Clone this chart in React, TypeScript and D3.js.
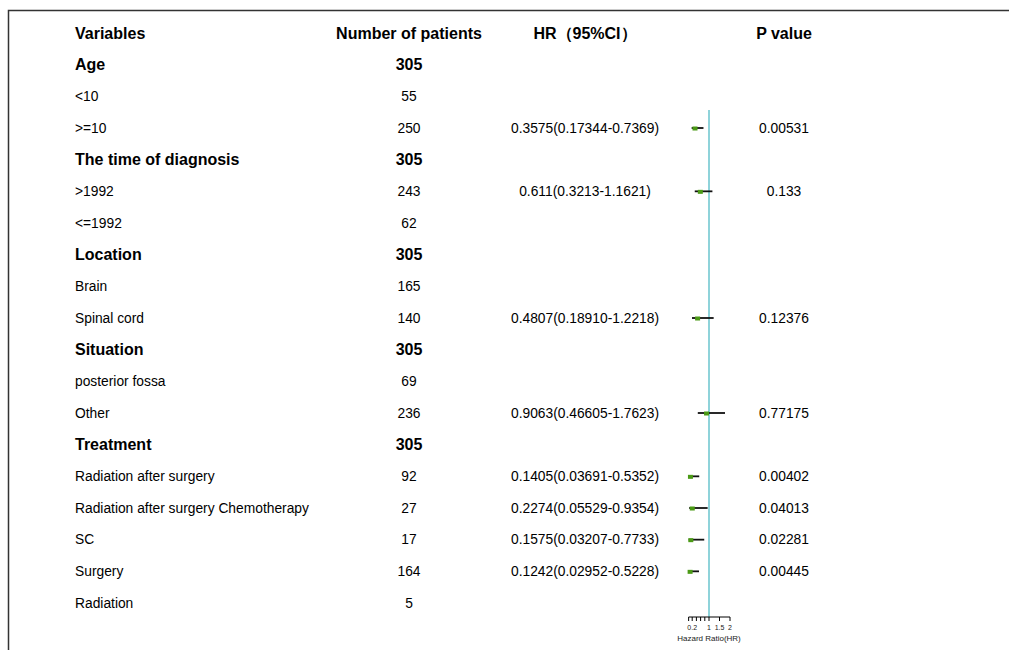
import { useEffect, useRef } from 'react';
import * as d3 from 'd3';

const variables = [
  'Age', '<10', '>=10',
  'The time of diagnosis', '>1992', '<=1992',
  'Location', 'Brain', 'Spinal cord',
  'Situation', 'posterior fossa', 'Other',
  'Treatment', 'Radiation after surgery', 'Radiation after surgery Chemotherapy', 'SC', 'Surgery', 'Radiation',
];
const isGroup = [
  true, false, false,
  true, false, false,
  true, false, false,
  true, false, false,
  true, false, false, false, false, false,
];
const patients = [305, 55, 250, 305, 243, 62, 305, 165, 140, 305, 69, 236, 305, 92, 27, 17, 164, 5];
const hrText = [
  '', '', '0.3575(0.17344-0.7369)',
  '', '0.611(0.3213-1.1621)', '',
  '', '', '0.4807(0.18910-1.2218)',
  '', '', '0.9063(0.46605-1.7623)',
  '', '0.1405(0.03691-0.5352)', '0.2274(0.05529-0.9354)', '0.1575(0.03207-0.7733)', '0.1242(0.02952-0.5228)', '',
];
const hr = [null, null, 0.3575, null, 0.611, null, null, null, 0.4807, null, null, 0.9063, null, 0.1405, 0.2274, 0.1575, 0.1242, null];
const lower = [null, null, 0.17344, null, 0.3213, null, null, null, 0.1891, null, null, 0.46605, null, 0.03691, 0.05529, 0.03207, 0.02952, null];
const upper = [null, null, 0.7369, null, 1.1621, null, null, null, 1.2218, null, null, 1.7623, null, 0.5352, 0.9354, 0.7733, 0.5228, null];
const pValues = ['', '', '0.00531', '', '0.133', '', '', '', '0.12376', '', '', '0.77175', '', '0.00402', '0.04013', '0.02281', '0.00445', ''];
const headers = ['Variables', 'Number of patients', 'HR\uFF0895%CI\uFF09', 'P value'];
const axisTicks = [0.2, 0.4, 0.6, 0.8, 1, 1.5, 2];
const axisLabels = [0.2, 1, 1.5, 2];

export default function App() {
  const svgRef = useRef<SVGSVGElement>(null);

  useEffect(() => {
    if (!svgRef.current) return;
    const svg = d3.select(svgRef.current);
    svg.selectAll('*').remove();
    const font = 'Liberation Sans, Arial, sans-serif';

    // frame
    svg.append('path')
      .attr('d', 'M8.5,650 L8.5,10.5 L1009,10.5')
      .attr('fill', 'none')
      .attr('stroke', '#333')
      .attr('stroke-width', 1.5);

    const y = d3.scaleLinear().domain([0, 18]).range([33, 603]);
    const x = d3.scaleLinear().domain([0, 2]).range([688, 730]);

    const colX = [75, 409, 585, 784];
    const anchors = ['start', 'middle', 'middle', 'middle'];

    // header
    headers.forEach((h, i) => {
      svg.append('text')
        .attr('x', colX[i])
        .attr('y', y(0))
        .attr('dy', '0.35em')
        .attr('text-anchor', anchors[i])
        .style('font-family', font)
        .style('font-size', '16px')
        .style('font-weight', 'bold')
        .style('fill', '#000')
        .text(h);
    });

    const rows = variables.map((v, i) => ({
      v, group: isGroup[i], n: patients[i], hrText: hrText[i], p: pValues[i],
      hr: hr[i], lo: lower[i], hi: upper[i], row: i + 1,
    }));

    const rg = svg.append('g').style('font-family', font).style('fill', '#000');
    rows.forEach(d => {
      const fs = d.group ? '16px' : '13.8px';
      const fw = d.group ? 'bold' : 'normal';
      const cells = [d.v, String(d.n), d.hrText, d.p];
      cells.forEach((c, i) => {
        if (!c) return;
        rg.append('text')
          .attr('x', colX[i])
          .attr('y', y(d.row))
          .attr('dy', '0.35em')
          .attr('text-anchor', anchors[i])
          .style('font-size', fs)
          .style('font-weight', fw)
          .text(c);
      });
    });

    // reference line at HR = 1
    svg.append('line')
      .attr('x1', x(1)).attr('x2', x(1))
      .attr('y1', 110).attr('y2', 617)
      .attr('stroke', '#8fd3da')
      .attr('stroke-width', 2);

    const est = rows.filter(d => d.hr !== null);
    svg.selectAll('.ci')
      .data(est)
      .join('line')
      .attr('class', 'ci')
      .attr('x1', d => x(d.lo as number))
      .attr('x2', d => x(d.hi as number))
      .attr('y1', d => y(d.row))
      .attr('y2', d => y(d.row))
      .attr('stroke', '#111')
      .attr('stroke-width', 1.8);

    svg.selectAll('.pt')
      .data(est)
      .join('rect')
      .attr('class', 'pt')
      .attr('x', d => x(d.hr as number) - 3)
      .attr('y', d => y(d.row) - 1.5)
      .attr('width', 5)
      .attr('height', 4)
      .attr('fill', '#4b9a16');

    // axis
    const axisY = 617;
    svg.append('line')
      .attr('x1', x(0.03)).attr('x2', x(2))
      .attr('y1', axisY).attr('y2', axisY)
      .attr('stroke', '#000').attr('stroke-width', 1);
    svg.selectAll('.tick')
      .data([0.03, ...axisTicks])
      .join('line')
      .attr('class', 'tick')
      .attr('x1', d => x(d)).attr('x2', d => x(d))
      .attr('y1', axisY).attr('y2', axisY + 4)
      .attr('stroke', '#000').attr('stroke-width', 1);
    svg.selectAll('.tlab')
      .data(axisLabels)
      .join('text')
      .attr('class', 'tlab')
      .attr('x', d => x(d))
      .attr('y', axisY + 13)
      .attr('text-anchor', 'middle')
      .style('font-family', font)
      .style('font-size', '7px')
      .style('fill', '#222')
      .text(d => String(d));
    svg.append('text')
      .attr('x', x(1))
      .attr('y', axisY + 24)
      .attr('text-anchor', 'middle')
      .style('font-family', font)
      .style('font-size', '8px')
      .style('fill', '#222')
      .text('Hazard Ratio(HR)');
  }, []);

  return (
    <div style={{ position: 'absolute', left: 0, top: 0, width: 1009, height: 650, background: '#fff' }}>
      <svg ref={svgRef} width={1009} height={650} style={{ display: 'block' }} />
    </div>
  );
}
